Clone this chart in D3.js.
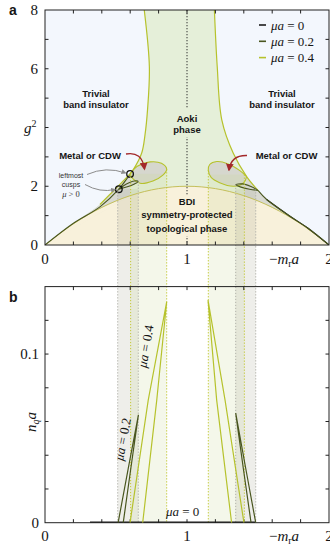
<!DOCTYPE html>
<html><head><meta charset="utf-8">
<script src="https://cdn.jsdelivr.net/npm/d3@7"></script>
<style>body{margin:0;background:#fff}svg{display:block}</style>
</head><body>
<script>
// ---------- data ----------
// panel a boundaries, [ -m_r a , g^2 ]
const aokiLeft04   = [[0.699,8],[0.735,6.06],[0.722,4.6],[0.704,3.74],[0.681,3.13],[0.62,2.55],[0.599,2.42]];
const tailLeft04   = [[0.599,2.42],[0.5,1.93],[0.387,1.38],[0.2,0.74],[0,0]];
const tailLeft02   = [[0.599,2.42],[0.52,1.90],[0.387,1.30],[0.2,0.74],[0,0]];
const aokiRight04  = [[1.193,8],[1.213,6.06],[1.245,4.26],[1.326,3.12],[1.42,2.33],[1.50,1.86],[1.561,1.55],[1.725,0.98],[1.85,0.58],[2,0]];
const tailRight02  = [[1.50,1.86],[1.561,1.55],[1.725,0.98],[1.85,0.58],[2,0]];
const bdiArc       = [[0,0],[0.2,0.72],[0.4,1.28],[0.6,1.68],[0.8,1.92],[1,2.0],[1.2,1.92],[1.4,1.68],[1.6,1.28],[1.8,0.72],[2,0]];
const lobeLeft04   = [[0.599,2.42],[0.65,2.68],[0.74,2.83],[0.82,2.78],[0.857,2.58],[0.83,2.38],[0.76,2.18],[0.67,2.1],[0.62,2.25],[0.599,2.42]];
const lobeLeft02   = [[0.52,1.90],[0.57,2.07],[0.63,2.18],[0.657,2.16],[0.63,2.08],[0.58,1.98],[0.52,1.90]];
const lobeRight04  = [[1.42,2.33],[1.37,2.54],[1.29,2.76],[1.21,2.84],[1.16,2.74],[1.150,2.55],[1.17,2.3],[1.23,2.12],[1.33,2.0],[1.40,2.12],[1.42,2.33]];
const lobeRight02  = [[1.50,1.86],[1.45,1.99],[1.39,2.08],[1.343,2.05],[1.38,1.97],[1.44,1.9],[1.50,1.86]];
const cuspCircles  = [[0.599,2.42],[0.52,1.90]];
// density bands [x0, x1, g2 at x0, g2 at x1, series]
const bands = [[0.512,0.657,1.90,2.16,"0.2"],[0.603,0.857,2.42,2.58,"0.4"],[1.150,1.404,2.55,2.4,"0.4"],[1.343,1.484,2.05,1.9,"0.2"]];
// panel b: n_q a vs -m_r a
const nq0      = [[0.317,0],[1.48,0]];
const nq02L    = [[0.515,0],[0.586,0.032],[0.658,0.064],[0.604,0.032],[0.551,0]];
const nq04L    = [[0.599,0],[0.727,0.0727],[0.857,0.131],[0.787,0.0727],[0.688,0]];
const nq04R    = [[1.314,0],[1.209,0.0727],[1.148,0.132],[1.268,0.0727],[1.401,0]];
const nq02R    = [[1.451,0],[1.397,0.032],[1.343,0.065],[1.414,0.032],[1.484,0]];
const legendMu = ["0","0.2","0.4"];
const xMinor   = [0.2,0.4,0.6,0.8,1.2,1.4,1.6,1.8];
const xLabels  = [0,1,2];
const yaTicks  = [1,2,3,4,5,6,7];
const yaLabels = [0,2,6,8];
const ybTicks  = [0.02,0.04,0.06,0.08,0.1,0.12];
const ybLabels = [0,0.1];

// ---------- styles ----------
const col = {"0":"#1b1b1b","0.2":"#49561f","0.4":"#b6c22c"};
const bandFill = {"0.2":"rgba(170,170,150,0.2)","0.4":"rgba(200,215,150,0.2)"};
const bandLine = {"0.2":"#b2b2aa","0.4":"#c3c836"};
const SERIF = "'Liberation Serif', 'DejaVu Serif', serif";
const SANS = "'Liberation Sans', Arial, sans-serif";

const svg = d3.select("body").append("svg").attr("width",330).attr("height",548);
const x  = d3.scaleLinear().domain([0,2]).range([45,329]);
const ya = d3.scaleLinear().domain([0,8]).range([245,10]);
const yb = d3.scaleLinear().domain([0,0.14]).range([522.7,286.6]);
const smooth = d3.line().x(d=>x(d[0])).y(d=>ya(d[1])).curve(d3.curveCatmullRom.alpha(0.5));
const lin = d3.line().x(d=>x(d[0])).y(d=>ya(d[1]));
const linB = d3.line().x(d=>x(d[0])).y(d=>yb(d[1]));
const join = (...s)=> s.map((p,i)=> i? p.replace(/^M/,"L"):p).join("")+"Z";

svg.append("defs").html(`
 <clipPath id="ca"><rect x="45" y="10" width="284" height="235"/></clipPath>
 <clipPath id="cb"><rect x="45" y="286.6" width="284" height="236.1"/></clipPath>
 <marker id="ar" viewBox="0 0 10 10" refX="8" refY="5" markerWidth="6" markerHeight="6" orient="auto"><path d="M0,0L10,5L0,10z" fill="#a3282a"/></marker>
 <marker id="ag" viewBox="0 0 10 10" refX="8" refY="5" markerWidth="5" markerHeight="5" orient="auto"><path d="M0,0L10,5L0,10z" fill="#8c8c8c"/></marker>`);

// ---------- panel a ----------
const A = svg.append("g").attr("clip-path","url(#ca)");
A.append("rect").attr("x",45).attr("y",10).attr("width",284).attr("height",235).attr("fill","#f3f7fd");
A.append("path").attr("fill","#e5efd9")
 .attr("d", join(smooth(aokiLeft04), smooth(tailLeft04), lin([[2,0]]), smooth(aokiRight04.slice().reverse()), lin([[1.193,8.5],[0.699,8.5]])));
A.append("path").attr("fill","#f8f1db").attr("d", join(smooth(bdiArc)));
// grey wedges between the outer boundary and the BDI arc
A.append("path").attr("fill","#d9dad2")
 .attr("d", join(smooth(tailLeft04.slice().reverse()), lin([[0.599,1.68]]), smooth(bdiArc.filter(d=>d[0]<=0.6).reverse())));
A.append("path").attr("fill","#d9dad2")
 .attr("d", join(smooth(aokiRight04.slice(4)), smooth(bdiArc.filter(d=>d[0]>=1.4).reverse())));
[lobeLeft04,lobeLeft02,lobeRight04,lobeRight02].forEach(l=>A.append("path").attr("fill","#d6d7ce").attr("d",smooth(l)+"Z"));
// bands in panel a
bands.forEach(b=>{
  const g = Math.min(b[2],b[3]);
  A.append("rect").attr("x",x(b[0])).attr("width",x(b[1])-x(b[0])).attr("y",ya(g)).attr("height",245-ya(g)).attr("fill",bandFill[b[4]]);
});
// lines
A.append("path").attr("fill","none").attr("stroke","#c4bf5a").attr("stroke-width",1).attr("d",smooth(bdiArc));
A.append("path").attr("fill","none").attr("stroke",col["0"]).attr("stroke-width",1.1).attr("d",smooth(tailRight02.slice(1)));
A.append("path").attr("fill","none").attr("stroke",col["0.2"]).attr("stroke-width",1.1).attr("d",smooth(tailLeft02));
A.append("path").attr("fill","none").attr("stroke",col["0.2"]).attr("stroke-width",1.1).attr("d",smooth(tailRight02));
A.append("path").attr("fill","none").attr("stroke",col["0.4"]).attr("stroke-width",1.2).attr("d",smooth(aokiLeft04)+smooth(tailLeft04.slice(0,3)));
A.append("path").attr("fill","none").attr("stroke",col["0.4"]).attr("stroke-width",1.2).attr("d",smooth(aokiRight04.slice(0,6)));
[[lobeLeft04,"0.4"],[lobeRight04,"0.4"],[lobeLeft02,"0.2"],[lobeRight02,"0.2"]].forEach(([l,m])=>
  A.append("path").attr("fill","none").attr("stroke",col[m]).attr("stroke-width",1.1).attr("d",smooth(l)));
// center dotted line + text backgrounds
A.append("line").attr("x1",x(1)).attr("x2",x(1)).attr("y1",ya(8)).attr("y2",ya(0)).attr("stroke","#333").attr("stroke-width",1).attr("stroke-dasharray","1.3,1.7");
A.append("rect").attr("x",x(1)-6).attr("width",12).attr("y",109).attr("height",28).attr("fill","#e5efd9");
A.append("rect").attr("x",x(1)-6).attr("width",12).attr("y",196).attr("height",40).attr("fill","#f8f1db");
cuspCircles.forEach(c=>A.append("circle").attr("cx",x(c[0])).attr("cy",ya(c[1])).attr("r",3.3).attr("fill","none").attr("stroke","#111").attr("stroke-width",1.3));

// bands through gap and panel b
const B = svg.append("g");
bands.forEach(b=>{
  B.append("rect").attr("x",x(b[0])).attr("width",x(b[1])-x(b[0])).attr("y",245).attr("height",yb(0)-245).attr("fill",bandFill[b[4]]);
});
bands.forEach(b=>{
  [[b[0],b[2]],[b[1],b[3]]].forEach(p=>
    svg.append("line").attr("x1",x(p[0])).attr("x2",x(p[0])).attr("y1",ya(p[1])).attr("y2",yb(0))
      .attr("stroke",bandLine[b[4]]).attr("stroke-width",1).attr("stroke-dasharray","1.3,1.7"));
});

// axes panel a
const axA = svg.append("g").attr("stroke","#222").attr("stroke-width",1).attr("fill","none");
axA.append("rect").attr("x",45).attr("y",10).attr("width",284).attr("height",235);
xMinor.concat([1]).forEach(t=>{
  axA.append("line").attr("x1",x(t)).attr("x2",x(t)).attr("y1",245).attr("y2",241.5);
  axA.append("line").attr("x1",x(t)).attr("x2",x(t)).attr("y1",10).attr("y2",13.5);
});
yaTicks.forEach(t=>{
  axA.append("line").attr("x1",45).attr("x2",48.5).attr("y1",ya(t)).attr("y2",ya(t));
  axA.append("line").attr("x1",329).attr("x2",325.5).attr("y1",ya(t)).attr("y2",ya(t));
});
// axes panel b
const axB = svg.append("g").attr("stroke","#222").attr("stroke-width",1).attr("fill","none");
axB.append("rect").attr("x",45).attr("y",yb(0.14)).attr("width",284).attr("height",yb(0)-yb(0.14));
xMinor.concat([1]).forEach(t=>{
  axB.append("line").attr("x1",x(t)).attr("x2",x(t)).attr("y1",yb(0)).attr("y2",yb(0)-3.5);
  axB.append("line").attr("x1",x(t)).attr("x2",x(t)).attr("y1",yb(0.14)).attr("y2",yb(0.14)+3.5);
});
ybTicks.forEach(t=>{
  axB.append("line").attr("x1",45).attr("x2",48.5).attr("y1",yb(t)).attr("y2",yb(t));
  axB.append("line").attr("x1",329).attr("x2",325.5).attr("y1",yb(t)).attr("y2",yb(t));
});

// panel b series
const P = svg.append("g").attr("clip-path","url(#cb)").attr("fill","none");
P.append("path").attr("stroke",col["0"]).attr("stroke-width",2.2).attr("d",linB(nq0));
[[nq02L,"0.2"],[nq02R,"0.2"]].forEach(([s,m])=>P.append("path").attr("stroke",col[m]).attr("stroke-width",1.2).attr("d",linB(s)));
[[nq04L,"0.4"],[nq04R,"0.4"]].forEach(([s,m])=>P.append("path").attr("stroke",col[m]).attr("stroke-width",1.2).attr("d",linB(s)));

// ---------- text ----------
const T = svg.append("g").attr("fill","#151515");
function sansLines(cx, y0, lines, size, dy){
  lines.forEach((s,i)=>T.append("text").attr("x",cx).attr("y",y0+i*dy).attr("text-anchor","middle")
    .attr("font-family",SANS).attr("font-weight","bold").attr("font-size",size).text(s));
}
sansLines(96,96.5,["Trivial","band insulator"],9.5,11.5);
sansLines(282,96.5,["Trivial","band insulator"],9.5,11.5);
sansLines(x(1),121.5,["Aoki","phase"],9.5,11.5);
sansLines(90,158.5,["Metal or CDW"],9.5,11.5);
sansLines(286.5,158.5,["Metal or CDW"],9.5,11.5);
sansLines(x(1),205,["BDI","symmetry-protected","topological phase"],9.5,13.3);
T.append("text").attr("x",9).attr("y",15).attr("font-family",SANS).attr("font-weight","bold").attr("font-size",14).text("a");
T.append("text").attr("x",9).attr("y",302).attr("font-family",SANS).attr("font-weight","bold").attr("font-size",14).text("b");
// small annotation
["leftmost","cusps"].forEach((s,i)=>T.append("text").attr("x",71).attr("y",177.5+i*9.6).attr("text-anchor","middle")
  .attr("font-family",SANS).attr("font-size",7).attr("fill","#333").text(s));
const mu0 = T.append("text").attr("x",71).attr("y",197).attr("text-anchor","middle").attr("font-family",SERIF).attr("font-size",8.5).attr("fill","#333");
mu0.append("tspan").attr("font-style","italic").text("μ");
mu0.append("tspan").text(" > 0");
// arrows
svg.append("path").attr("d","M126,154 Q142,151 144.5,169").attr("fill","none").attr("stroke","#a3282a").attr("stroke-width",1.3).attr("marker-end","url(#ar)");
svg.append("path").attr("d","M247,155.5 Q231,155 229,170").attr("fill","none").attr("stroke","#a3282a").attr("stroke-width",1.3).attr("marker-end","url(#ar)");
svg.append("path").attr("d","M87,174.5 Q106,166 125.5,173").attr("fill","none").attr("stroke","#8c8c8c").attr("stroke-width",1).attr("marker-end","url(#ag)");
svg.append("path").attr("d","M85,184.5 Q100,193 115,189.5").attr("fill","none").attr("stroke","#8c8c8c").attr("stroke-width",1).attr("marker-end","url(#ag)");

// tick labels
function num(xp, yp, s, anchor){ return T.append("text").attr("x",xp).attr("y",yp).attr("text-anchor",anchor||"middle").attr("font-family",SERIF).attr("font-size",15).text(s); }
yaLabels.forEach(v=>num(38,ya(v)+5,String(v),"end"));
xLabels.forEach(v=>{ num(x(v),264,String(v)); num(x(v),541,String(v)); });
ybLabels.forEach(v=>num(39,yb(v)+5,String(v),"end"));
function mr(yp){
  const t = T.append("text").attr("x",284).attr("y",yp).attr("text-anchor","middle").attr("font-family",SERIF).attr("font-size",15);
  t.append("tspan").text("−");
  t.append("tspan").attr("font-style","italic").text("m");
  t.append("tspan").attr("font-size",10).attr("dy",3).text("r");
  t.append("tspan").attr("font-style","italic").attr("dy",-3).text("a");
}
mr(264); mr(541);
const g2 = T.append("text").attr("x",24).attr("y",133).attr("font-family",SERIF).attr("font-size",15);
g2.append("tspan").attr("font-style","italic").text("g");
g2.append("tspan").attr("font-size",10).attr("dy",-6).text("2");
const nq = T.append("text").attr("transform","translate(36,422) rotate(-90)").attr("text-anchor","middle").attr("font-family",SERIF).attr("font-size",15);
nq.append("tspan").attr("font-style","italic").text("n");
nq.append("tspan").attr("font-style","italic").attr("font-size",10).attr("dy",3).text("q");
nq.append("tspan").attr("font-style","italic").attr("dy",-3).text("a");

// legend
legendMu.forEach((m,i)=>{
  const yy = 25+i*16.3;
  svg.append("line").attr("x1",259).attr("x2",266).attr("y1",yy).attr("y2",yy).attr("stroke",col[m]).attr("stroke-width",1.6);
  const t = T.append("text").attr("x",271).attr("y",yy+4.5).attr("font-family",SERIF).attr("font-size",13);
  t.append("tspan").attr("font-style","italic").text("μa");
  t.append("tspan").text(" = "+m);
});
// panel b series labels
function muLabel(tr, m, anchor){
  const t = T.append("text").attr("transform",tr).attr("text-anchor",anchor||"middle").attr("font-family",SERIF).attr("font-size",13);
  t.append("tspan").attr("font-style","italic").text("μa");
  t.append("tspan").text(" = "+m);
}
muLabel("translate(150,347) rotate(-80)","0.4");
muLabel("translate(127,440) rotate(-79)","0.2");
muLabel("translate(166,516)","0","start");
</script>
</body></html>
